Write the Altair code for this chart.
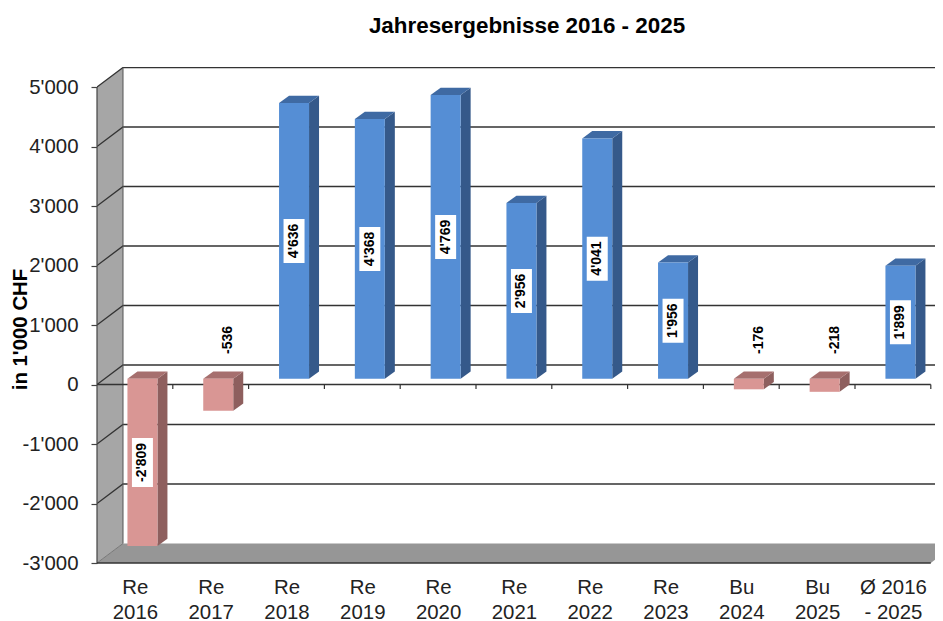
import altair as alt
import pandas as pd

# --- values ---
categories = ["Re|2016", "Re|2017", "Re|2018", "Re|2019", "Re|2020", "Re|2021",
              "Re|2022", "Re|2023", "Bu|2024", "Bu|2025", "Ø 2016|- 2025"]
values = [-2809, -536, 4636, 4368, 4769, 2956, 4041, 1956, -176, -218, 1899]
y_ticks = [-3000, -2000, -1000, 0, 1000, 2000, 3000, 4000, 5000]
title = "Jahresergebnisse 2016 - 2025"
y_title = "in 1'000 CHF"

FONT = "Liberation Sans"
PX_X = 75.8          # px per category
PX_Y = 0.0595        # px per CHF thousand-unit
W, H = 838, 496
XMAX = W / PX_X
YMIN = -3000
YMAX = YMIN + H / PX_Y
N = len(values)
DX = 26 / PX_X       # chart depth
DY = 19.5 / PX_Y
BAR_W = 30 / PX_X
BAR_SHIFT_X = 0.29 * DX
BAR_SHIFT_Y = 0.29 * DY
BAR_DX = 10 / PX_X
BAR_DY = 7.3 / PX_Y
INSIDE_MIN = 1000
OUT_Y = 748

x_s = alt.Scale(domain=[0, XMAX], nice=False, zero=False)
y_s = alt.Scale(domain=[YMIN, YMAX], nice=False, zero=False)

labels_js = "[" + ",".join(f"'{c}'" for c in categories) + "]"
x_axis = alt.Axis(
    values=[i + 0.5 for i in range(N)], ticks=False, domain=False, grid=False,
    labelExpr=f"split({labels_js}[floor(datum.value)],'|')",
    labelFont=FONT, labelFontSize=20.4, labelColor="#222222", labelPadding=14,
    labelLineHeight=25, labelOverlap=False, labelFlush=False, labelBound=False)
y_axis = alt.Axis(
    values=y_ticks, grid=False, domain=False,
    tickColor="#444444", tickSize=6, tickWidth=1.2, labelPadding=13,
    labelExpr="(datum.value < 0 ? '-' : '') + replace(format(abs(datum.value), ',d'), ',', \"'\")",
    labelFont=FONT, labelFontSize=20.4, labelColor="#222222", labelOverlap=False,
    labelFlush=False, labelBound=False,
    titleFont=FONT, titleFontSize=20.4, titleFontWeight="bold", titleColor="#000000",
    titleX=-77, titleY=262, titleAngle=270, titleAlign="center", titleBaseline="middle")

X = lambda f="x": alt.X(f"{f}:Q", scale=x_s, axis=x_axis, title=None)
Y = lambda f="y": alt.Y(f"{f}:Q", scale=y_s, axis=y_axis, title=y_title)

# walls
wall = alt.Chart(pd.DataFrame({
    "x": [0, DX], "y": [YMIN, YMIN + DY], "y2": [5000, 5000 + DY]
})).mark_area(color="#a6a6a6", clip=True).encode(x=X(), y=Y(), y2="y2:Q")
floor = alt.Chart(pd.DataFrame({
    "y": [YMIN, YMIN + DY], "x": [0, DX], "x2": [N, N + DX]
})).mark_area(color="#969696", orient="horizontal", clip=True).encode(y=Y(), x=X(), x2="x2:Q")

# grid lines with their diagonal on the side wall
grid_rows = []
for v in y_ticks:
    if v == YMIN:
        continue
    grid_rows += [{"v": v, "x": 0, "y": v}, {"v": v, "x": DX, "y": v + DY}, {"v": v, "x": XMAX, "y": v + DY}]
grid = alt.Chart(pd.DataFrame(grid_rows)).mark_line(color="#333333", strokeWidth=1.3, clip=True).encode(
    x=X(), y=Y(), detail="v:N")
wall_edge = alt.Chart(pd.DataFrame({"x": [DX], "y": [YMIN + DY], "y2": [5000 + DY]})).mark_rule(
    color="#555555", strokeWidth=1).encode(x=X(), y=Y(), y2="y2:Q")
wall_corner = alt.Chart(pd.DataFrame({"x": [0, DX], "y": [YMIN, YMIN + DY]})).mark_line(
    color="#777777", strokeWidth=1).encode(x=X(), y=Y())
y_domain = alt.Chart(pd.DataFrame({"x": [0], "y": [YMIN], "y2": [5000]})).mark_rule(
    color="#444444", strokeWidth=1.2).encode(x=X(), y=Y(), y2="y2:Q")

# front axis lines and ticks
front = alt.Chart(pd.DataFrame({"x": [0, 0], "x2": [N, N], "y": [0, YMIN]})).mark_rule(
    color="#333333", strokeWidth=1.3).encode(x=X(), x2="x2:Q", y=Y())
ticks = alt.Chart(pd.DataFrame({"x": list(range(1, N + 1))}).assign(y=0, y2=-75)).mark_rule(
    color="#333333", strokeWidth=1.2).encode(x=X(), y=Y(), y2="y2:Q")

# bars
fr, sd, tp, boxes, inside, outside = [], [], [], [], [], []
for i, v in enumerate(values):
    c = i + 0.5 + BAR_SHIFT_X
    xl, xr = c - BAR_W / 2, c + BAR_W / 2
    hi, lo = max(v, 0) + BAR_SHIFT_Y, min(v, 0) + BAR_SHIFT_Y
    pos = v >= 0
    fr.append({"x": xl, "x2": xr, "y": lo, "y2": hi, "c": "#558ed5" if pos else "#d99694"})
    side_c = "#35598a" if pos else "#8e5f5e"
    top_c = "#3f6aa3" if pos else "#a66f6e"
    sd += [{"i": i, "x": xr, "y": hi, "y2": lo, "c": side_c},
           {"i": i, "x": xr + BAR_DX, "y": hi + BAR_DY, "y2": lo + BAR_DY, "c": side_c}]
    tp += [{"i": i, "y": hi, "x": xl, "x2": xr, "c": top_c},
           {"i": i, "y": hi + BAR_DY, "x": xl + BAR_DX, "x2": xr + BAR_DX, "c": top_c}]
    txt = f"{v:,}".replace(",", "'")
    if abs(v) >= INSIDE_MIN:
        m = (hi + lo) / 2
        half_h = (len(txt) * 5 + 19) / 2 / PX_Y
        boxes.append({"x": c - 10.5 / PX_X, "x2": c + 10.5 / PX_X, "y": m - half_h, "y2": m + half_h})
        inside.append({"x": c, "y": m, "t": txt})
    else:
        outside.append({"x": c + 10 / PX_X, "y": OUT_Y, "t": txt})

C = alt.Color("c:N", scale=None)
front_bars = alt.Chart(pd.DataFrame(fr)).mark_rect().encode(x=X(), x2="x2:Q", y=Y(), y2="y2:Q", color=C)
side_bars = alt.Chart(pd.DataFrame(sd)).mark_area().encode(x=X(), y=Y(), y2="y2:Q", color=C, detail="i:N")
top_bars = alt.Chart(pd.DataFrame(tp)).mark_area(orient="horizontal").encode(
    y=Y(), x=X(), x2="x2:Q", color=C, detail="i:N")
box_marks = alt.Chart(pd.DataFrame(boxes)).mark_rect(color="white").encode(x=X(), x2="x2:Q", y=Y(), y2="y2:Q")
text_style = dict(font=FONT, fontSize=14, fontWeight="bold", angle=270, color="#000000",
                  align="center", baseline="middle")
inside_text = alt.Chart(pd.DataFrame(inside)).mark_text(**text_style).encode(x=X(), y=Y(), text="t:N")
outside_text = alt.Chart(pd.DataFrame(outside)).mark_text(**text_style).encode(x=X(), y=Y(), text="t:N")

chart = alt.layer(
    wall, floor, grid, wall_edge, wall_corner, y_domain, front, ticks,
    side_bars, top_bars, front_bars, box_marks, inside_text, outside_text,
).properties(
    width=W, height=H,
    title=alt.TitleParams(title, font=FONT, fontSize=22.4, fontWeight="bold", color="#000000",
                          anchor="middle", frame="group", dx=11, offset=30),
    autosize=alt.AutoSizeParams(type="none"),
    padding={"left": 89, "top": 59, "right": 0, "bottom": 58},
).configure_view(stroke=None)

chart.save("out.html", embed_options={"renderer": "svg", "actions": False})
